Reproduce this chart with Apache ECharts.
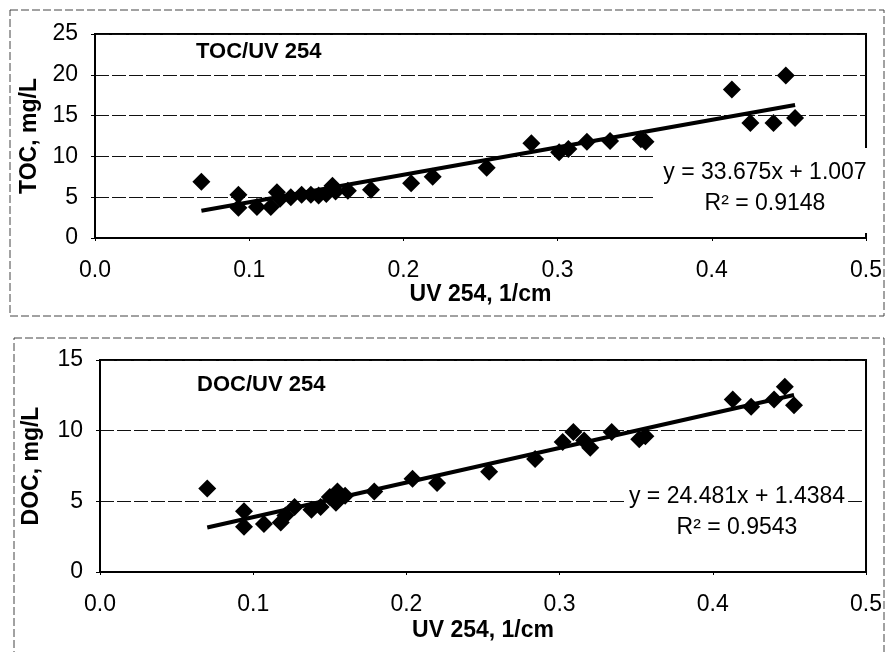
<!DOCTYPE html>
<html>
<head>
<meta charset="utf-8">
<script src="https://cdn.jsdelivr.net/npm/echarts@6/dist/echarts.min.js"></script>
<style>
  html, body { margin: 0; padding: 0; background: #fff; }
  #chart { width: 885px; height: 652px; }
</style>
</head>
<body>
<div id="chart"></div>
<script>
// TOC vs UV254 measurements
const TOC_UV = [0.069, 0.093, 0.093, 0.105, 0.114, 0.118, 0.120, 0.127, 0.134, 0.140, 0.145, 0.150, 0.154, 0.156, 0.164, 0.179,
                0.205, 0.219, 0.254, 0.283, 0.301, 0.307, 0.319, 0.334, 0.354, 0.357, 0.413, 0.425, 0.440, 0.448, 0.454];
const TOC_VAL = [6.9, 5.3, 3.7, 3.8, 3.8, 5.6, 4.8, 5.0, 5.3, 5.3, 5.2, 5.4, 6.4, 5.7, 5.8, 5.9,
                 6.7, 7.5, 8.6, 11.6, 10.5, 10.9, 11.8, 11.9, 12.1, 11.8, 18.2, 14.1, 14.1, 19.9, 14.7];
// DOC vs UV254 measurements
const DOC_UV = [0.070, 0.094, 0.094, 0.107, 0.118, 0.121, 0.127, 0.138, 0.144, 0.150, 0.154, 0.155, 0.160, 0.179,
                0.204, 0.220, 0.254, 0.284, 0.302, 0.309, 0.316, 0.320, 0.334, 0.352, 0.356, 0.413, 0.425, 0.440, 0.447, 0.453];
const DOC_VAL = [5.9, 4.3, 3.2, 3.4, 3.5, 4.0, 4.6, 4.4, 4.6, 5.3, 4.9, 5.7, 5.4, 5.7,
                 6.6, 6.3, 7.1, 8.0, 9.2, 9.9, 9.3, 8.8, 9.9, 9.4, 9.6, 12.2, 11.7, 12.2, 13.1, 11.8];

// Linear regression results: [slope, intercept, R²]
const TOC_FIT = [33.675, 1.007, 0.9148];
const DOC_FIT = [24.481, 1.4384, 0.9543];

const X_TICKS = [0.0, 0.1, 0.2, 0.3, 0.4, 0.5];
const TOC_TICKS = [0, 5, 10, 15, 20, 25];
const DOC_TICKS = [0, 5, 10, 15];

const FONT = '"Liberation Sans", Arial, Helvetica, sans-serif';

function points(xs, ys) { return xs.map((x, i) => [x, ys[i]]); }
function fitLine(xs, fit) {
  const lo = Math.min(...xs), hi = Math.max(...xs);
  return [lo, hi].map(x => [x, fit[0] * x + fit[1]]);
}
function eqText(fit) { return 'y = ' + fit[0] + 'x + ' + fit[1] + '\nR² = ' + fit[2]; }

function xAxis(gridIndex, nameGap) {
  return {
    type: 'value', gridIndex,
    min: X_TICKS[0], max: X_TICKS[X_TICKS.length - 1], interval: 0.1,
    name: 'UV 254, 1/cm', nameLocation: 'middle', nameGap,
    nameTextStyle: { fontFamily: FONT, fontWeight: 'bold', fontSize: 23, color: '#000' },
    axisLine: { lineStyle: { color: '#000', width: 2 } },
    axisTick: { show: true, length: 3, lineStyle: { color: '#000' } },
    axisLabel: { margin: 21, fontFamily: FONT, fontSize: 23, color: '#000', formatter: v => v.toFixed(1), showMaxLabel: true },
    splitLine: { show: false }
  };
}
function yAxis(gridIndex, ticks, name, nameGap) {
  return {
    type: 'value', gridIndex,
    min: ticks[0], max: ticks[ticks.length - 1], interval: 5,
    name, nameLocation: 'middle', nameGap,
    nameTextStyle: { fontFamily: FONT, fontWeight: 'bold', fontSize: 23, color: '#000' },
    axisLine: { show: true, lineStyle: { color: '#000', width: 2 } },
    axisTick: { show: true, length: 4, lineStyle: { color: '#000' } },
    axisLabel: { margin: 17, fontFamily: FONT, fontSize: 23, color: '#000' },
    splitLine: { show: true, lineStyle: { color: '#111', width: 1, type: [14, 3] } }
  };
}
function scatter(idx, data) {
  return {
    type: 'scatter', xAxisIndex: idx, yAxisIndex: idx, data,
    symbol: 'diamond', symbolSize: 18, itemStyle: { color: '#000', opacity: 1 }, z: 3
  };
}
function trend(idx, data) {
  return {
    type: 'line', xAxisIndex: idx, yAxisIndex: idx, data,
    showSymbol: false, symbol: 'none', lineStyle: { color: '#000', width: 4 }, z: 2, silent: true
  };
}

const chart = echarts.init(document.getElementById('chart'), null, { renderer: 'canvas' });
chart.setOption({
  animation: false,
  backgroundColor: '#fff',
  grid: [
    { left: 95, right: 17, top: 34, height: 204, show: true, borderColor: '#000', borderWidth: 2 },
    { left: 100, right: 16, top: 360, height: 212, show: true, borderColor: '#000', borderWidth: 2 }
  ],
  xAxis: [xAxis(0, 45), xAxis(1, 47)],
  yAxis: [yAxis(0, TOC_TICKS, 'TOC, mg/L', 54), yAxis(1, DOC_TICKS, 'DOC, mg/L', 57)],
  series: [
    trend(0, fitLine(TOC_UV, TOC_FIT)),
    scatter(0, points(TOC_UV, TOC_VAL)),
    trend(1, fitLine(DOC_UV, DOC_FIT)),
    scatter(1, points(DOC_UV, DOC_VAL))
  ],
  graphic: [
    // chart area frames
    { type: 'rect', shape: { x: 10, y: 10, width: 874, height: 306 }, silent: true,
      style: { fill: null, stroke: '#444', lineWidth: 1, lineDash: [8, 3] } },
    { type: 'rect', shape: { x: 14, y: 338, width: 870, height: 330 }, silent: true,
      style: { fill: null, stroke: '#444', lineWidth: 1, lineDash: [8, 3] } },
    // panel captions
    { type: 'text', left: 196, top: 41, z: 10,
      style: { text: 'TOC/UV 254', font: 'bold 22px ' + FONT, fill: '#000' } },
    { type: 'text', left: 197, top: 374, z: 10,
      style: { text: 'DOC/UV 254', font: 'bold 22px ' + FONT, fill: '#000' } },
    // regression label boxes
    { type: 'rect', shape: { x: 653, y: 148, width: 223, height: 85 }, z: 10, silent: true,
      style: { fill: '#fff' } },
    { type: 'text', x: 765, y: 157, z: 11,
      style: { text: eqText(TOC_FIT), font: '23px ' + FONT, fill: '#000', align: 'center', lineHeight: 31 } },
    { type: 'text', x: 737, y: 481, z: 11,
      style: { text: eqText(DOC_FIT), font: '23px ' + FONT, fill: '#000', align: 'center', lineHeight: 31,
               backgroundColor: '#fff', padding: [0, 3] } }
  ]
});
</script>
</body>
</html>
